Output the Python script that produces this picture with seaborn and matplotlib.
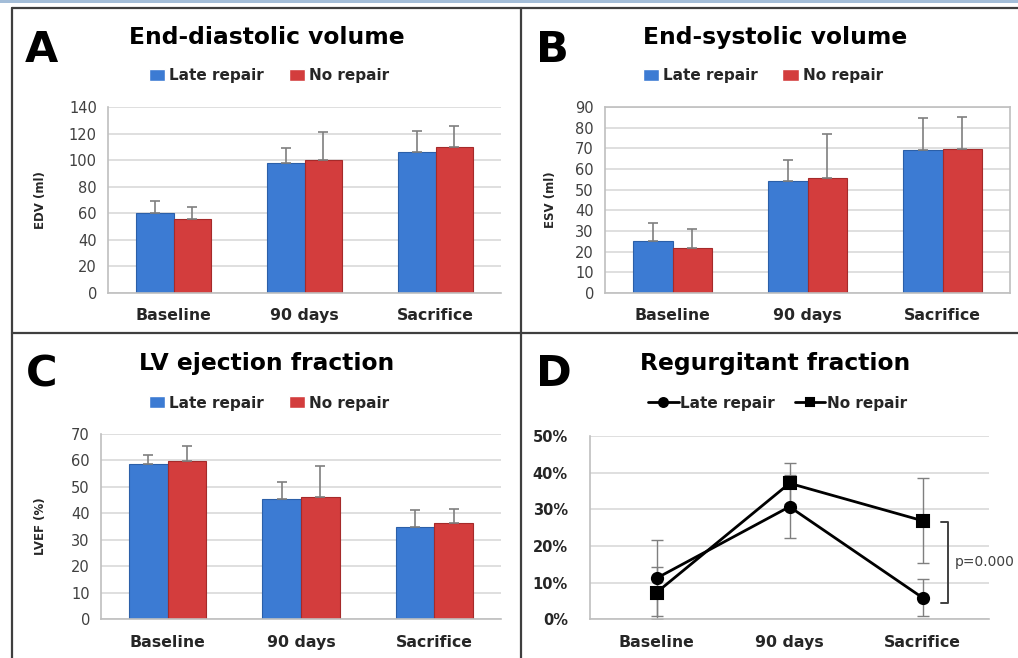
import numpy as np
import pandas as pd
import matplotlib
matplotlib.use("Agg")
import matplotlib.pyplot as plt
import seaborn as sns
from matplotlib.lines import Line2D
from matplotlib.patches import Rectangle
from matplotlib.ticker import MultipleLocator, FixedLocator, FuncFormatter

# ---------------- data ----------------
categories = ["Baseline", "90 days", "Sacrifice"]
groups = ["Late repair", "No repair"]

edv_late = [60, 98, 106]
edv_late_sd = [9, 11, 16]
edv_no = [56, 100, 110]
edv_no_sd = [8.5, 21.5, 15.5]

esv_late = [25, 54, 69]
esv_late_sd = [9, 10.5, 15.8]
esv_no = [22, 55.5, 69.7]
esv_no_sd = [9, 21.5, 15.6]

lvef_late = [58.5, 45.4, 34.9]
lvef_late_sd = [3.4, 6.3, 6.3]
lvef_no = [59.7, 46.0, 36.2]
lvef_no_sd = [5.8, 11.7, 5.5]

rf_late = [0.112, 0.307, 0.059]
rf_late_sd = [0.103, 0.086, 0.050]
rf_no = [0.073, 0.371, 0.269]
rf_no_sd = [0.071, 0.056, 0.116]

# ---------------- style ----------------
sns.set_style("white")
plt.rcParams["font.family"] = ["DejaVu Sans"]

W, H = 1018, 658
BLUE, BLUE_E = "#3C7BD3", "#2B5FA8"
RED, RED_E = "#D33D3D", "#A52A2A"
GRID = "#D9D9D9"
AXC = "#BFBFBF"
ERR = "#7F7F7F"
TXT = "#262626"

fig = plt.figure(figsize=(W / 100, H / 100), dpi=100)


def axrect(x0, y0, x1, y1):
    return [x0 / W, 1 - y1 / H, (x1 - x0) / W, (y1 - y0) / H]


def ftext(x, y, s, **kw):
    fig.text(x / W, 1 - y / H, s, **kw)


def fline(x0, y0, x1, y1, **kw):
    fig.add_artist(Line2D([x0 / W, x1 / W], [1 - y0 / H, 1 - y1 / H],
                          transform=fig.transFigure, **kw))


def style_axes(ax, boxed=False):
    ax.set_xlim(-0.5, 2.5)
    ax.grid(axis="y", color=GRID, lw=1.2)
    ax.grid(axis="x", visible=False)
    ax.set_axisbelow(True)
    for side in ["left", "bottom"]:
        ax.spines[side].set_color(AXC)
        ax.spines[side].set_linewidth(1.2)
    for side in ["top", "right"]:
        ax.spines[side].set_visible(boxed)
        ax.spines[side].set_color(AXC)
        ax.spines[side].set_linewidth(1.2)
    ax.xaxis.set_minor_locator(FixedLocator([-0.5, 0.5, 1.5, 2.5]))
    ax.tick_params(axis="x", which="minor", length=5, color=AXC, width=1.2)
    ax.tick_params(axis="x", which="major", length=0, pad=11, labelsize=11.3,
                   labelcolor=TXT)
    for lbl in ax.get_xticklabels():
        lbl.set_fontweight("bold")
    ax.set_xlabel("")


def bar_panel(rect, late, late_sd, no, no_sd, ymax, ystep, ylabel, ylab_x,
              legend_xy, boxed=False):
    ax = fig.add_axes(rect)
    df = pd.DataFrame({
        "time": categories * 2,
        "value": late + no,
        "group": [groups[0]] * 3 + [groups[1]] * 3,
    })
    sns.barplot(data=df, x="time", y="value", hue="group", order=categories,
                hue_order=groups, palette=[BLUE, RED], width=0.58,
                saturation=1, errorbar=None, ax=ax)
    conts = list(ax.containers)[:2]
    for cont, sd, ec in zip(conts, [late_sd, no_sd], [BLUE_E, RED_E]):
        for bar, e in zip(cont, sd):
            bar.set_edgecolor(ec)
            bar.set_linewidth(0.8)
            x = bar.get_x() + bar.get_width() / 2
            h = bar.get_height()
            ax.errorbar(x, h, yerr=[[0], [e]], color=ERR, lw=1.2,
                        capsize=3.5, capthick=1.2, zorder=4)
    ax.set_ylim(0, ymax)
    ax.yaxis.set_major_locator(MultipleLocator(ystep))
    ax.tick_params(axis="y", length=4, color=AXC, width=1.2, labelsize=10.5,
                   labelcolor="#404040", pad=4)
    style_axes(ax, boxed)
    ax.set_ylabel(ylabel, fontweight="bold", fontsize=8.5, color=TXT)
    ax.yaxis.set_label_coords(ylab_x, 0.5)
    sns.move_legend(ax, "center", bbox_to_anchor=legend_xy, ncol=2,
                    frameon=False, title=None,
                    prop={"weight": "bold", "size": 11},
                    handlelength=1.05, handleheight=0.85, handletextpad=0.3,
                    columnspacing=1.6)
    return ax


# Panel A
bar_panel(axrect(108, 107, 501, 293), edv_late, edv_late_sd, edv_no, edv_no_sd,
          140, 20, "EDV (ml)", -0.155, (0.41, 1.167))
# Panel B
bar_panel(axrect(605, 107, 1010, 293), esv_late, esv_late_sd, esv_no, esv_no_sd,
          90, 10, "ESV (ml)", -0.118, (0.39, 1.167), boxed=True)
# Panel C
bar_panel(axrect(101, 433.7, 501, 619.3), lvef_late, lvef_late_sd, lvef_no,
          lvef_no_sd, 70, 10, "LVEF (%)", -0.135, (0.42, 1.165))

# Panel D
axd = fig.add_axes(axrect(590, 436, 989, 619.3))
dfd = pd.DataFrame({
    "time": categories * 2,
    "value": rf_late + rf_no,
    "group": [groups[0]] * 3 + [groups[1]] * 3,
})
axd.errorbar(range(3), rf_late, yerr=rf_late_sd, fmt="none", ecolor=ERR,
             lw=1.0, capsize=4, capthick=1.0, zorder=1)
axd.errorbar(range(3), rf_no, yerr=rf_no_sd, fmt="none", ecolor=ERR,
             lw=1.0, capsize=4, capthick=1.0, zorder=1)
sns.pointplot(data=dfd, x="time", y="value", hue="group", order=categories,
              hue_order=groups, palette=["black", "black"], markers=["o", "s"],
              linestyles=["-", "-"], errorbar=None, ax=axd, markersize=8,
              linewidth=2.0)
axd.set_ylim(0, 0.5)
axd.yaxis.set_major_locator(MultipleLocator(0.1))
axd.yaxis.set_major_formatter(FuncFormatter(lambda v, p: f"{int(round(v * 100))}%"))
axd.tick_params(axis="y", length=3, color=AXC, width=1.2, labelsize=10.5,
                labelcolor=TXT, pad=13)
for lbl in axd.get_yticklabels():
    lbl.set_fontweight("bold")
style_axes(axd)
axd.set_ylabel("")
sns.move_legend(axd, "center", bbox_to_anchor=(0.47, 1.18), ncol=2,
                frameon=False, title=None,
                prop={"weight": "bold", "size": 11},
                handlelength=2.0, handletextpad=0.1, columnspacing=1.3,
                markerscale=0.8)
# significance bracket
axd.plot([2.14, 2.19, 2.19, 2.14], [0.265, 0.265, 0.044, 0.044],
         color="#404040", lw=1.4, clip_on=False)
axd.text(2.245, 0.155, "p=0.000", fontsize=10, color="#404040", va="center",
         ha="left")

# ---------------- titles and panel letters ----------------
for x, y, s in [(267, 44, "End-diastolic volume"), (775, 44, "End-systolic volume"),
                (267, 370, "LV ejection fraction"), (775, 370, "Regurgitant fraction")]:
    ftext(x, y, s, ha="center", va="baseline", fontsize=16.8,
          fontweight="bold", color="black")

for x, y, s in [(25, 62, "A"), (536, 62, "B"), (26, 386, "C"), (536, 386, "D")]:
    ftext(x, y, s, ha="left", va="baseline", fontsize=31, fontweight="bold",
          color="black")

# ---------------- panel borders ----------------
fig.add_artist(Rectangle((0, 1 - 3 / H), 1, 3 / H, transform=fig.transFigure,
                         color="#A3BDD8", lw=0))
BORDER = dict(color="#3F3F3F", lw=1.6)
fline(12, 8, W, 8, **BORDER)
fline(12, 8, 12, H, **BORDER)
fline(521, 8, 521, H, **BORDER)
fline(12, 333, W, 333, **BORDER)

fig.savefig("out.png", dpi=100)
